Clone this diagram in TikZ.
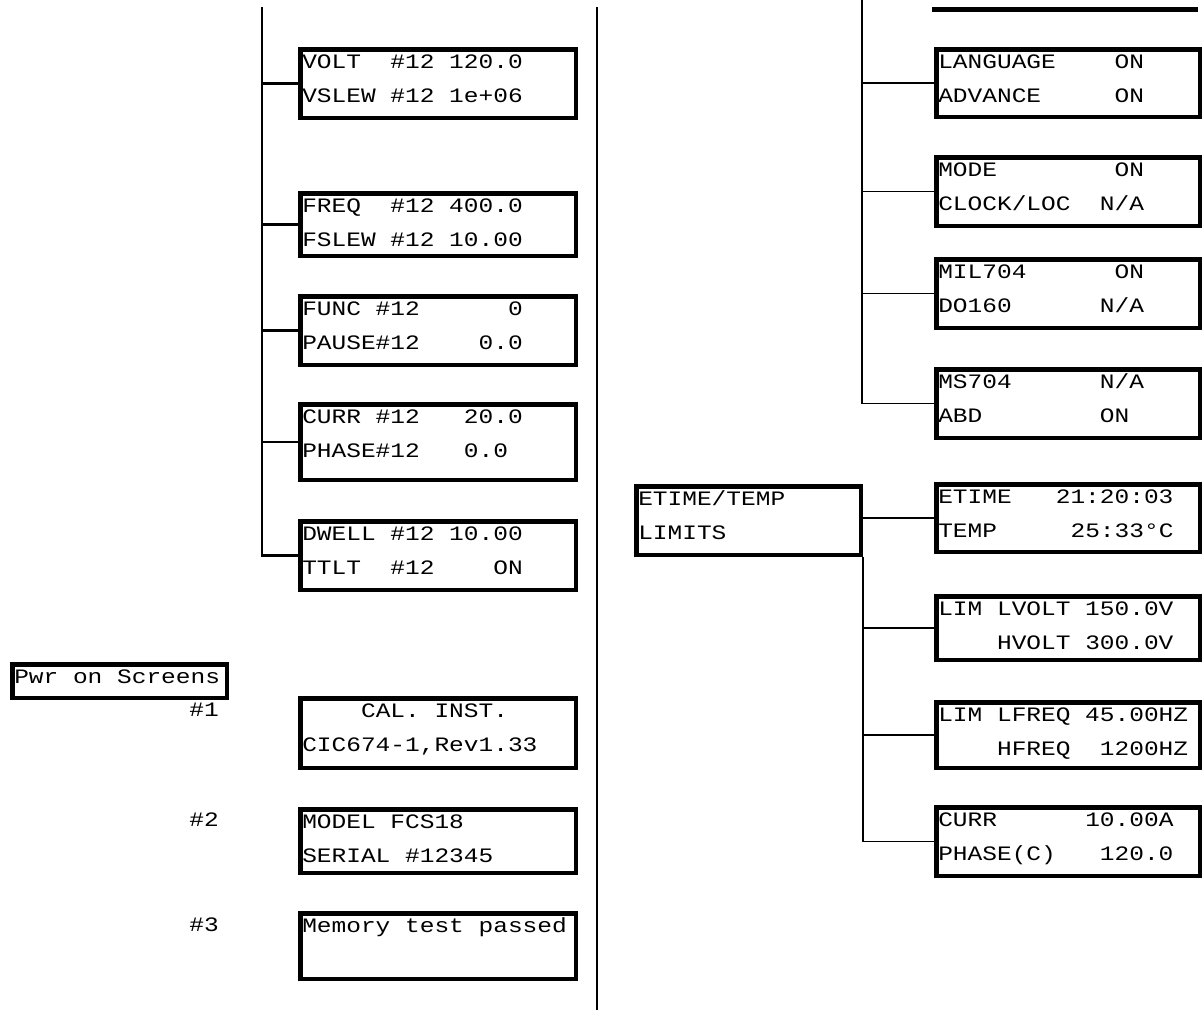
\documentclass[tikz,border=0pt]{standalone}
\usepackage{fontspec}
\newfontfamily\lcdfamily[FakeStretch=1.195]{Liberation Mono}
\frenchspacing
% text of one screen: width, height, lines
\newcommand{\lcd}[3]{\parbox[t][#2][t]{#1}{\rule{0pt}{17pt}#3}}
\tikzset{
  screen/.style={draw, line width=4.5pt, anchor=north west, inner sep=2pt},
  trunk/.style={line width=2.2pt},
  branch/.style={line width=1.3pt},
}
\begin{document}
\begin{tikzpicture}[x=1pt, y=-1pt, font=\lcdfamily\fontsize{20.5}{34.5}\selectfont]
  \useasboundingbox (0,0) rectangle (1203,1010);

  % left column
  \node[screen] (volt)  at (298,47)  {\lcd{271.5pt}{64.5pt}{VOLT~~\#12~120.0\\VSLEW~\#12~1e+06}};
  \node[screen] (freq)  at (298,191) {\lcd{271.5pt}{58.5pt}{FREQ~~\#12~400.0\\FSLEW~\#12~10.00}};
  \node[screen] (func)  at (298,294) {\lcd{271.5pt}{64.5pt}{FUNC~\#12~~~~~~0\\PAUSE\#12~~~~0.0}};
  \node[screen] (curr)  at (298,402) {\lcd{271.5pt}{71.5pt}{CURR~\#12~~~20.0\\PHASE\#12~~~0.0}};
  \node[screen] (dwell) at (298,519) {\lcd{271.5pt}{64.5pt}{DWELL~\#12~10.00\\TTLT~~\#12~~~~ON}};

  \coordinate (ltop) at (262,7);
  \draw[trunk] (ltop) |- (dwell.west);
  \foreach \n in {volt,freq,func,curr}
    \draw[trunk] (ltop |- \n.west) -- (\n.west);

  % power on screens
  \node[screen] (pwr) at (10,662) {\lcd{210.5pt}{29.5pt}{Pwr~on~Screens}};
  \node[anchor=base east, inner sep=0pt] (s1) at (219,716) {\#1};
  \node[anchor=base east, inner sep=0pt] (s2) at (219,826) {\#2};
  \node[anchor=base east, inner sep=0pt] (s3) at (219,931) {\#3};
  \node[screen] (cal)   at (298,696) {\lcd{271.5pt}{65.5pt}{~~~~CAL.~INST.\\CIC674-1,Rev1.33}};
  \node[screen] (model) at (298,807) {\lcd{271.5pt}{59.5pt}{MODEL~FCS18\\SERIAL~\#12345}};
  \node[screen] (mem)   at (298,911) {\lcd{271.5pt}{61.5pt}{Memory~test~passed}};

  % divider
  \coordinate (divtop) at (597,7);
  \coordinate (divbot) at (597,1010);
  \draw[line width=2.5pt] (divtop) -- (divbot);

  % right column, upper group
  \draw[line width=4.5pt] (932,9.5) -- (1198,9.5);
  \node[screen] (lang) at (934,47)  {\lcd{259.5pt}{63.5pt}{LANGUAGE~~~~ON\\ADVANCE~~~~~ON}};
  \node[screen] (mode) at (934,155) {\lcd{259.5pt}{64.5pt}{MODE~~~~~~~~ON\\CLOCK/LOC~~N/A}};
  \node[screen] (mil)  at (934,257) {\lcd{259.5pt}{64.5pt}{MIL704~~~~~~ON\\DO160~~~~~~N/A}};
  \node[screen] (ms)   at (934,367) {\lcd{259.5pt}{64.5pt}{MS704~~~~~~N/A\\ABD~~~~~~~~ON}};

  \coordinate (rtop) at (862,0);
  \draw[trunk] (rtop) -- (rtop |- ms.west);
  \draw[trunk] (rtop |- lang.west) -- (lang.west);
  \foreach \n in {mode,mil,ms}
    \draw[branch] (rtop |- \n.west) -- (\n.west);

  % right column, lower group
  \node[screen] (menu)  at (634,484) {\lcd{220.5pt}{64.5pt}{ETIME/TEMP\\LIMITS}};
  \node[screen] (etime) at (934,482) {\lcd{259.5pt}{63.5pt}{ETIME~~~21:20:03\\TEMP~~~~~25:33°C}};
  \node[screen] (limv)  at (934,594) {\lcd{259.5pt}{59.5pt}{LIM~LVOLT~150.0V\\\null~~~~HVOLT~300.0V}};
  \node[screen] (limf)  at (934,700) {\lcd{259.5pt}{61.5pt}{LIM~LFREQ~45.00HZ\\\null~~~~HFREQ~~1200HZ}};
  \node[screen] (curr2) at (934,805) {\lcd{259.5pt}{64.5pt}{CURR~~~~~~10.00A\\PHASE(C)~~~120.0}};

  \draw[branch] (menu.east |- etime.west) -- (etime.west);
  \draw[branch] (menu.south east) |- (curr2.west);
  \foreach \n in {limv,limf}
    \draw[branch] (menu.south east |- \n.west) -- (\n.west);
\end{tikzpicture}
\end{document}
